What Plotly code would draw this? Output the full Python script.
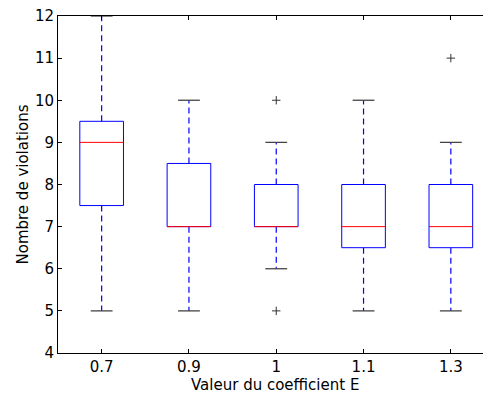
import plotly.graph_objects as go

categories = ["0.7", "0.9", "1", "1.1", "1.3"]
q1 = [7.5, 7.0, 7.0, 6.5, 6.5]
median = [9.0, 7.0, 7.0, 7.0, 7.0]
q3 = [9.5, 8.5, 8.0, 8.0, 8.0]
lower_whisker = [5, 5, 6, 5, 5]
upper_whisker = [12, 10, 9, 10, 9]
outliers = [[], [], [10, 5], [], [11]]

BOX_W = 0.5
CAP_W = 0.25
FONT = "DejaVu Sans"

fig = go.Figure()
positions = list(range(1, len(categories) + 1))

for i, p in enumerate(positions):
    h = BOX_W / 2
    c = CAP_W / 2
    fig.add_trace(go.Scatter(
        x=[p, p, None, p, p],
        y=[q3[i], upper_whisker[i], None, q1[i], lower_whisker[i]],
        mode="lines", line=dict(color="#0000ff", width=1.2, dash="6px,4px"),
        hoverinfo="skip", showlegend=False))
    fig.add_trace(go.Scatter(
        x=[p - c, p + c, None, p - c, p + c],
        y=[upper_whisker[i], upper_whisker[i], None, lower_whisker[i], lower_whisker[i]],
        mode="lines", line=dict(color="#444444", width=1.3),
        hoverinfo="skip", showlegend=False))
    fig.add_trace(go.Scatter(
        x=[p - h, p + h, p + h, p - h, p - h],
        y=[q1[i], q1[i], q3[i], q3[i], q1[i]],
        mode="lines", line=dict(color="#0000ff", width=1),
        hoverinfo="skip", showlegend=False))
    fig.add_trace(go.Scatter(
        x=[p - h, p + h], y=[median[i], median[i]],
        mode="lines", line=dict(color="#ff0000", width=1),
        hoverinfo="skip", showlegend=False))
    if outliers[i]:
        fig.add_trace(go.Scatter(
            x=[p] * len(outliers[i]), y=outliers[i], mode="markers",
            marker=dict(symbol="cross-thin", size=6,
                        line=dict(color="#333333", width=1)),
            hoverinfo="skip", showlegend=False))

fig.add_trace(go.Scatter(x=[1], y=[4], yaxis="y2", mode="markers",
                         marker=dict(opacity=0), hoverinfo="skip", showlegend=False))

fig.update_layout(
    width=483, height=386,
    margin=dict(l=50, r=0, t=8, b=41, autoexpand=False),
    paper_bgcolor="white", plot_bgcolor="white",
    font=dict(family=FONT, size=15, color="black"),
    xaxis=dict(
        range=[0.5, 5.46], tickmode="array", tickvals=positions, ticktext=categories,
        showgrid=False, zeroline=False, showline=True, linecolor="black", linewidth=1,
        mirror="ticks", ticks="inside", ticklen=4, tickcolor="black",
        tickfont=dict(size=15), automargin=False, domain=[0, 1],
        ticklabeloverflow="allow",
    ),
    yaxis=dict(
        range=[4, 12], tickmode="array", tickvals=list(range(4, 13)),
        showgrid=False, zeroline=False,
        showline=True, linecolor="black", linewidth=1,
        ticks="inside", ticklen=4, tickcolor="black",
        tickfont=dict(size=15), automargin=False, ticklabeloverflow="allow",
    ),
    yaxis2=dict(
        range=[4, 12], tickmode="array", tickvals=list(range(4, 13)),
        overlaying="y", side="right", showgrid=False,
        zeroline=False, showline=False, showticklabels=False,
        ticks="inside", ticklen=4, tickcolor="black", automargin=False,
    ),
    annotations=[
        dict(text="Valeur du coefficient E", xref="paper", yref="paper",
             x=0.5, y=0, yshift=-32, xanchor="center", yanchor="middle",
             showarrow=False, font=dict(size=15)),
        dict(text="Nombre de violations", xref="paper", yref="paper",
             x=0, y=0.5, xshift=-36, xanchor="center", yanchor="middle",
             textangle=-90, showarrow=False, font=dict(size=15)),
    ],
)

fig.write_html("out.html")
